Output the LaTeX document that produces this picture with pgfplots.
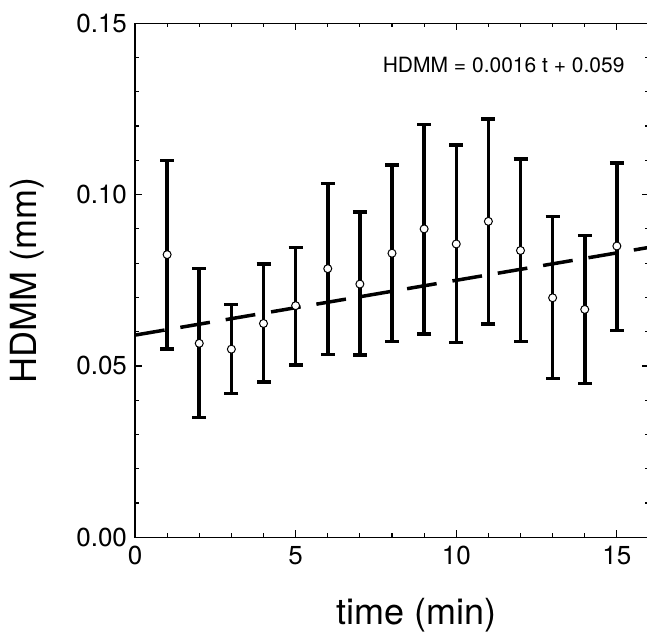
\documentclass[border=0pt]{standalone}
\usepackage{pgfplots}
\pgfplotsset{compat=1.18}
\usetikzlibrary{calc}
\usepackage{fontspec}
\setmainfont{TeX Gyre Heros}

\begin{document}
\begin{tikzpicture}
\begin{axis}[
    scale only axis,
    width=257pt, height=257pt,
    xmin=0, xmax=16,
    ymin=0, ymax=0.15,
    xtick={0,5,10,15},
    ytick={0,0.05,0.10,0.15},
    minor x tick num=4,
    minor y tick num=4,
    major tick length=3.5pt,
    minor tick length=2pt,
    tick style={black, line width=0.6pt},
    axis line style={line width=0.75pt},
    /pgf/number format/assume math mode=true,
    yticklabel style={/pgf/number format/fixed, /pgf/number format/fixed zerofill,
        /pgf/number format/precision=2, xshift=-0.5pt},
    ticklabel style={font=\fontsize{13}{15}\selectfont},
    xticklabel style={yshift=-1pt},
    xlabel={time (min)},
    ylabel={HDMM (mm)},
    label style={font=\fontsize{18}{21}\selectfont},
    xlabel style={at={(axis description cs:0.547,-0.1687)}, anchor=base},
    ylabel style={at={(axis description cs:-0.1907,0.5)}, anchor=base},
    clip=false,
]
% regression line HDMM = 0.0016 t + 0.059
\addplot [black, line width=1.75pt, dash pattern=on 15pt off 8pt] coordinates {
    (0,0.059) (16,0.0846)
};
% mean with error bars (lower/upper ends)
\addplot [
    only marks,
    mark=*, mark size=2pt,
    mark options={fill=white, draw=black, line width=0.5pt},
    error bars/.cd,
        y dir=both, y explicit,
        error bar style={line width=1.75pt, black},
        error mark options={black, line width=1.75pt, mark size=3.5pt, rotate=90},
] table [x=t, y=m, y error plus=ep, y error minus=em] {
t   m       ep      em
1   0.0825  0.0274  0.0276
2   0.0566  0.0218  0.0216
3   0.0549  0.0131  0.0129
4   0.0624  0.0173  0.0171
5   0.0676  0.0169  0.0173
6   0.0784  0.0249  0.0250
7   0.0739  0.0210  0.0207
8   0.0829  0.0257  0.0257
9   0.0900  0.0305  0.0306
10  0.0856  0.0289  0.0287
11  0.0922  0.0299  0.0299
12  0.0837  0.0267  0.0266
13  0.0699  0.0237  0.0236
14  0.0665  0.0216  0.0216
15  0.0850  0.0243  0.0246
};
\node [anchor=base east, font=\fontsize{10.5}{13}\selectfont]
    at (rel axis cs:0.966,0.9033) {HDMM = 0.0016 t + 0.059};
\coordinate (SW) at (rel axis cs:0,0);
\end{axis}
\pgfresetboundingbox
\path [use as bounding box] ($(SW)+(-67.5pt,-46.85pt)$) rectangle ++(323.5pt,315.5pt);
\end{tikzpicture}
\end{document}
